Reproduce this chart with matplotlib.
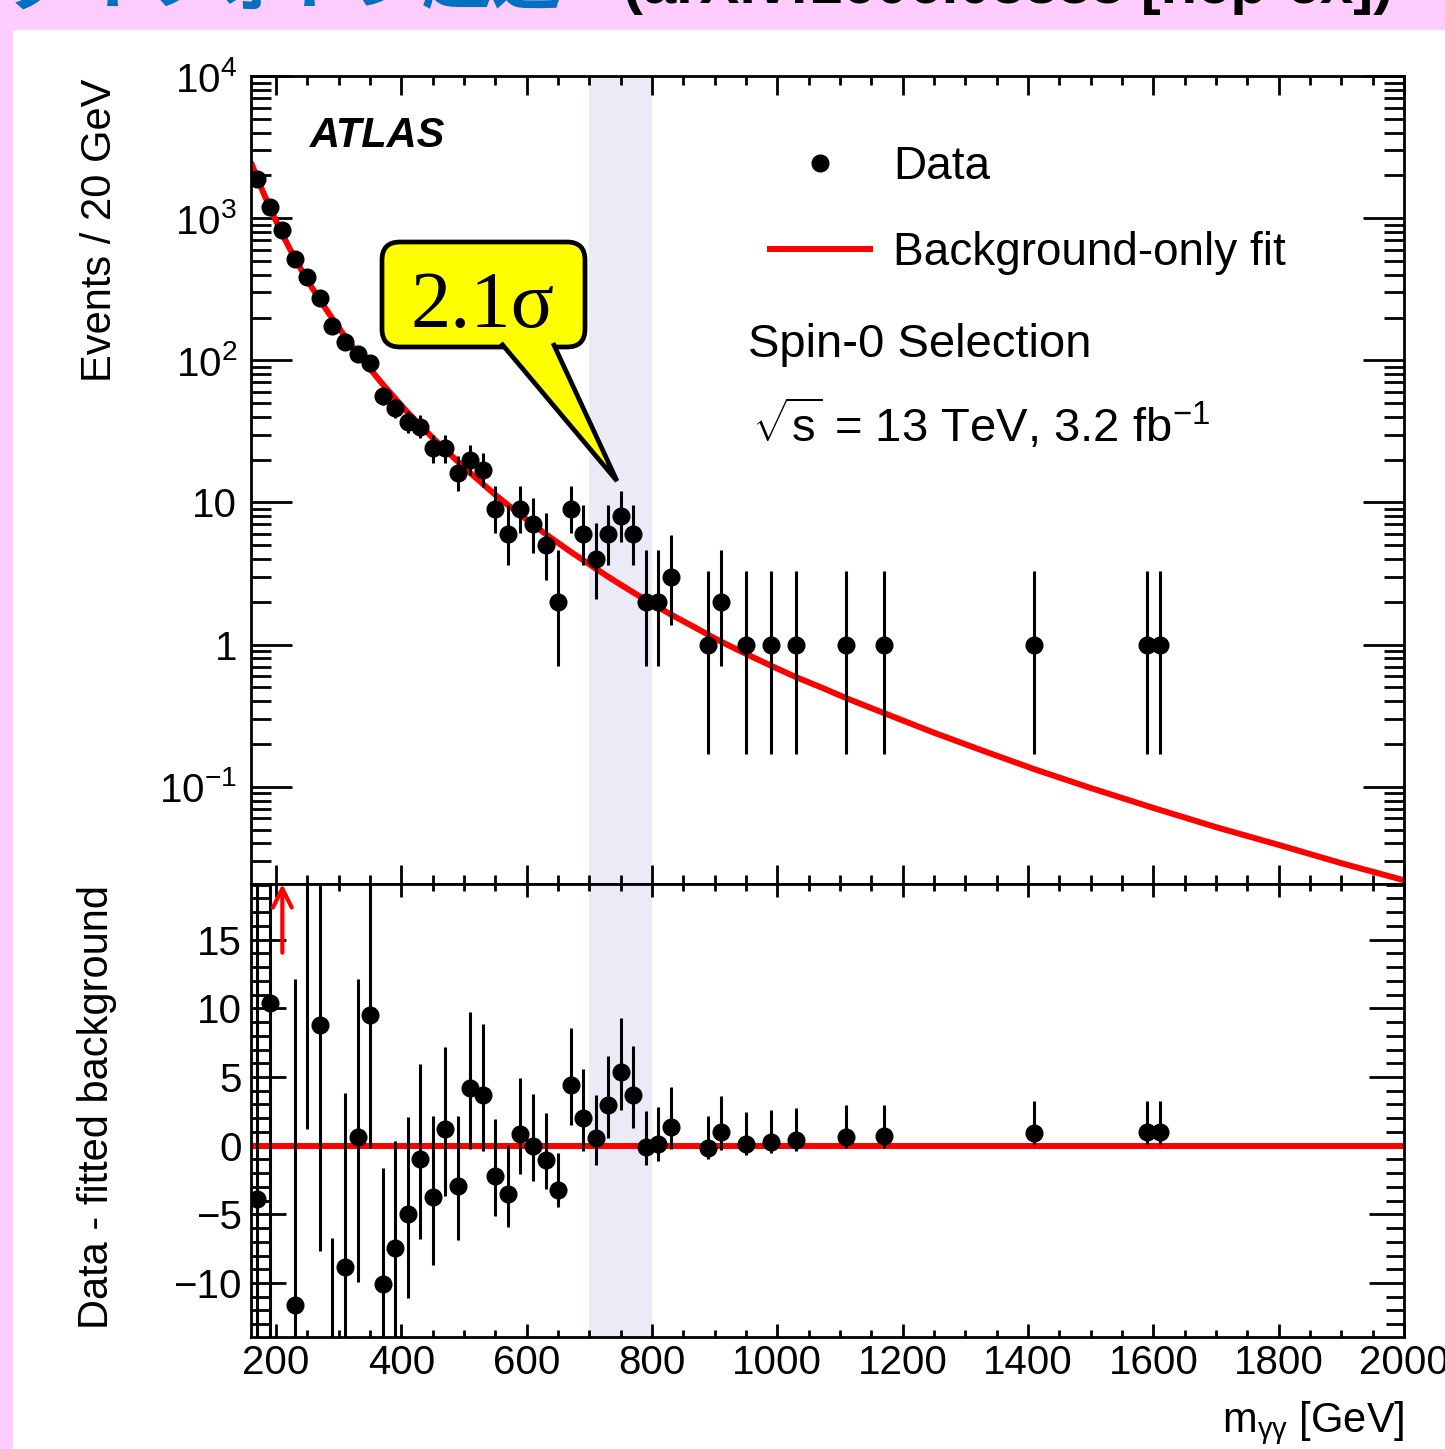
import matplotlib
matplotlib.use('Agg')
import matplotlib.pyplot as plt
import numpy as np
from matplotlib.patches import Rectangle, FancyBboxPatch, Polygon
from matplotlib.lines import Line2D
from matplotlib.ticker import LogLocator, MultipleLocator, FuncFormatter, NullFormatter

plt.rcParams['font.family'] = ['Liberation Sans', 'DejaVu Sans']
plt.rcParams['mathtext.fontset'] = 'custom'
plt.rcParams['mathtext.rm'] = 'Liberation Sans'
plt.rcParams['mathtext.it'] = 'Liberation Sans:italic'
plt.rcParams['mathtext.bf'] = 'Liberation Sans:bold'
plt.rcParams['mathtext.default'] = 'regular'
plt.rcParams['axes.unicode_minus'] = True

# ---------------- data ----------------
mass = [170, 190, 210, 230, 250, 270, 290, 310, 330, 350, 370, 390, 410, 430,
        450, 470, 490, 510, 530, 550, 570, 590, 610, 630, 650, 670, 690, 710,
        730, 750, 770, 790, 810, 830, 890, 910, 950, 990, 1030, 1110, 1170,
        1410, 1590, 1610]
counts = [1900, 1200, 828, 514, 386, 273, 174, 135, 110, 95, 56, 46, 37, 34,
          24, 24, 16, 20, 17, 9, 6, 9, 7, 5, 2, 9, 6, 4,
          6, 8, 6, 2, 2, 3, 1, 2, 1, 1, 1, 1, 1,
          1, 1, 1]
err_lo = [43.6, 34.6, 28.8, 22.7, 19.6, 16.5, 13.2, 11.6, 10.5, 9.7, 7.5, 6.8, 6.1, 5.8,
          4.9, 4.9, 3.96, 4.44, 4.08, 2.94, 2.38, 2.94, 2.58, 2.16, 1.29, 2.94, 2.38, 1.91,
          2.38, 2.77, 2.38, 1.29, 1.29, 1.63, 0.83, 1.29, 0.83, 0.83, 0.83, 0.83, 0.83,
          0.83, 0.83, 0.83]
err_hi = [44.6, 35.6, 29.8, 23.7, 20.6, 17.5, 14.2, 12.6, 11.5, 10.8, 8.5, 7.8, 7.1, 6.9,
          5.95, 5.95, 5.09, 5.55, 5.2, 4.11, 3.58, 4.11, 3.77, 3.38, 2.64, 4.11, 3.58, 3.16,
          3.58, 3.95, 3.58, 2.64, 2.64, 2.92, 2.30, 2.64, 2.30, 2.30, 2.30, 2.30, 2.30,
          2.30, 2.30, 2.30]
residual = [-3.9, 10.4, 58.0, -11.6, 20.8, 8.8, -20.9, -8.8, 0.6, 9.5, -10.1, -7.45, -5.0, -0.97,
            -3.76, 1.21, -2.91, 4.2, 3.69, -2.18, -3.52, 0.85, 0.0, -1.02, -3.2, 4.44, 2.0, 0.53,
            2.96, 5.34, 3.69, -0.12, 0.15, 1.36, -0.17, 0.97, 0.15, 0.27, 0.44, 0.63, 0.68,
            0.92, 0.97, 0.97]

fit_mass = [160, 170, 180, 190, 200, 210, 230, 250, 270, 290, 310, 330, 350, 370, 390,
            410, 430, 450, 470, 490, 510, 530, 550, 570, 590, 610, 630, 650, 670, 690,
            710, 730, 750, 770, 790, 810, 830, 850, 870, 890, 910, 950, 990, 1030, 1070,
            1110, 1170, 1250, 1330, 1410, 1500, 1600, 1700, 1800, 1900, 2000]
fit_value = [2470, 1910, 1500, 1190, 955, 770, 520, 365, 265, 196, 147, 112, 87, 68, 54,
             43, 35, 28.5, 23.5, 19.4, 16.1, 13.5, 11.3, 9.6, 8.2, 7.0, 6.0, 5.2, 4.5, 3.93,
             3.43, 3.0, 2.64, 2.33, 2.06, 1.83, 1.63, 1.46, 1.31, 1.17, 1.05, 0.86, 0.71, 0.59, 0.50,
             0.42, 0.33, 0.24, 0.178, 0.133, 0.098, 0.071, 0.052, 0.039, 0.029, 0.022]

band = (700, 800)
title_jp = 'ダイフォトン超過'
title_ref = '(arXiv:1606.03833 [hep-ex])'

# ---------------- figure ----------------
W, H = 1445, 1449
fig = plt.figure(figsize=(W / 100, H / 100), dpi=100)
fig.patch.set_facecolor('#FFCCFF')
fig.add_artist(Rectangle((13 / W, 0), 1, 1 - 30 / H, transform=fig.transFigure,
                         facecolor='white', edgecolor='none', zorder=-10))

# title, mostly above the visible area as in the reference
fig.text(5 / W, 1 - 4 / H, title_jp, family=['Noto Sans CJK JP'], weight='bold',
         size=50, color='#0070C0', va='baseline', ha='left')
fig.text(623 / W, 1 - 3 / H, title_ref, weight='bold', size=43, color='black',
         va='baseline', ha='left')

L = 251 / W
Wd = (1404 - 251) / W
ax = fig.add_axes([L, 1 - 884 / H, Wd, 808 / H])
ax2 = fig.add_axes([L, 1 - 1337 / H, Wd, 453 / H])

band_color = '#EBEBF8'
for a in (ax, ax2):
    a.axvspan(band[0], band[1], color=band_color, zorder=0, lw=0)
    a.set_xlim(160, 2000)
    a.xaxis.set_major_locator(MultipleLocator(200))
    a.xaxis.set_minor_locator(MultipleLocator(50))
    for s in a.spines.values():
        s.set_linewidth(2.0)
    a.tick_params(which='both', direction='in', top=True, right=True, width=2.0, color='black')

# ---------- top panel ----------
ax.plot(fit_mass, fit_value, color='red', lw=4.3, zorder=2, solid_capstyle='butt')
ax.errorbar(mass, counts, yerr=[err_lo, err_hi], fmt='o', color='black', ms=12,
            elinewidth=2.2, capsize=0, zorder=3)
ax.set_yscale('log')
ax.set_ylim(0.0207, 1e4)
ax.yaxis.set_major_locator(LogLocator(base=10, numticks=20))
ax.yaxis.set_minor_locator(LogLocator(base=10, subs=np.arange(2, 10), numticks=20))


def logfmt(v, pos):
    e = int(round(np.log10(v)))
    if e == 0:
        return '1'
    if e == 1:
        return '10'
    return r'$10^{%d}$' % e


ax.yaxis.set_major_formatter(FuncFormatter(logfmt))
ax.yaxis.set_minor_formatter(NullFormatter())
ax.tick_params(axis='y', which='major', length=29.5, pad=10, labelsize=29)
ax.tick_params(axis='y', which='minor', length=14.4)
ax.tick_params(axis='x', which='major', length=13.7, labelbottom=False)
ax.tick_params(axis='x', which='minor', length=6.5)
ax.set_ylabel('Events / 20 GeV', fontsize=30, va='center', ha='center')
ax.yaxis.set_label_coords((100 - 251) / 1153, (884 - 230) / 808)

handles = [Line2D([], [], marker='o', ls='none', color='black', ms=12),
           Line2D([], [], color='red', lw=4.3)]
ax.legend(handles, ['Data', 'Background-only fit'], loc='upper left',
          bbox_to_anchor=(770 / W, 1 - 145 / H), bbox_transform=fig.transFigure,
          frameon=False, fontsize=33, handlelength=2.18, handletextpad=0.5,
          labelspacing=0.92, borderpad=0, borderaxespad=0)

# ---------- bottom panel ----------
ax2.axhline(0, color='red', lw=4.3, zorder=2)
ax2.errorbar(mass, residual, yerr=[err_lo, err_hi], fmt='o', color='black', ms=12,
             elinewidth=2.2, capsize=0, zorder=3)
ylo, yhi = -13.93, 19.05
ax2.set_ylim(ylo, yhi)
for m, r, lo in zip(mass, residual, err_lo):
    if r - lo > yhi:
        ax2.annotate('', xy=(m, yhi), xytext=(m, yhi - 5.0),
                     arrowprops=dict(arrowstyle='->', color='red', lw=3.0,
                                     mutation_scale=34, shrinkA=0, shrinkB=0),
                     zorder=4)
ax2.yaxis.set_major_locator(MultipleLocator(5))
ax2.yaxis.set_minor_locator(MultipleLocator(1))
ax2.tick_params(axis='y', which='major', length=25, pad=6.5, labelsize=29)
ax2.tick_params(axis='y', which='minor', length=13)
ax2.tick_params(axis='x', which='major', length=9.4, pad=5, labelsize=29)
ax2.tick_params(axis='x', which='minor', length=5)
ax2.set_ylabel('Data - fitted background', fontsize=30, va='center', ha='center')
ax2.yaxis.set_label_coords((97 - 251) / 1153, (1337 - 1107) / 453)
ax2.set_xlabel(r'm$_{\gamma\gamma}$ [GeV]', fontsize=30, ha='right', va='baseline')
ax2.xaxis.set_label_coords(1.0, -(1432 - 1337) / 453)

# ---------- annotations (pixel overlay) ----------
ov = fig.add_axes([0, 0, 1, 1])
ov.set_xlim(0, W)
ov.set_ylim(H, 0)
ov.axis('off')
ov.set_zorder(5)

ov.text(310, 147, 'ATLAS', fontsize=30, weight='bold', style='italic', va='baseline')
ov.text(748, 357, 'Spin-0 Selection', fontsize=34, va='baseline')
ov.text(752, 442, r'$\sqrt{s}$ = 13 TeV, 3.2 fb$^{-1}$', fontsize=34, va='baseline')

box = FancyBboxPatch((382, 242), 203, 105, boxstyle='round,pad=0,rounding_size=18',
                     facecolor='#FFFF00', edgecolor='black', lw=3.4, zorder=6)
ov.add_patch(box)
pointer = Polygon([(501, 343), (617, 481), (553, 343)], closed=False,
                  facecolor='#FFFF00', edgecolor='black', lw=3.4, joinstyle='miter',
                  zorder=7)
ov.add_patch(pointer)
ov.text(483, 327, '2.1σ', family=['Liberation Serif', 'DejaVu Serif'], fontsize=58,
        ha='center', va='baseline', zorder=8)

fig.savefig('out.png', dpi=100, facecolor=fig.get_facecolor())
